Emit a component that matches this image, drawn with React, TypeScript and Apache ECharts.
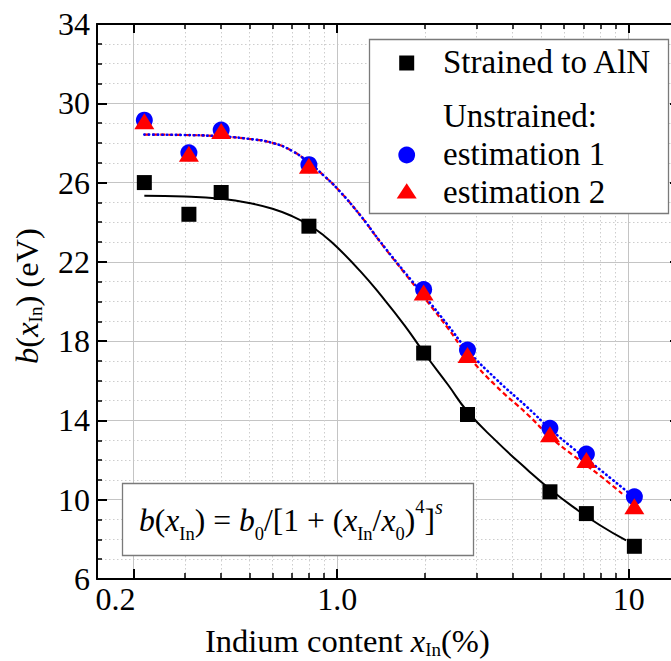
import React, { useEffect, useRef } from "react";
import * as echarts from "echarts";

const FONT = "'Liberation Serif', 'Times New Roman', serif";

// Measured points (x = indium content in %, y = b in eV)
const indiumContent = [0.218, 0.31, 0.4, 0.8, 1.98, 2.8, 5.37, 7.16, 10.46];
const strainedToAlN = [26.0, 24.4, 25.5, 23.8, 17.4, 14.3, 10.4, 9.3, 7.65];
const unstrainedEst1 = [29.15, 27.5, 28.65, 26.9, 20.6, 17.55, 13.6, 12.3, 10.15];
const unstrainedEst2 = [29.1, 27.45, 28.6, 26.85, 20.45, 17.3, 13.3, 12.0, 9.67];

// Fitted curves
const fitStrainedX = [0.218, 0.3, 0.4, 0.5, 0.6, 0.7, 0.8, 0.9, 1.0, 1.2, 1.4, 1.7, 2.0, 2.4, 2.8, 3.5, 4.5, 5.4, 6.5, 8.0, 9.8];
const fitStrainedY = [25.34, 25.3, 25.18, 24.97, 24.68, 24.31, 23.86, 23.33, 22.74, 21.53, 20.38, 18.81, 17.35, 15.8, 14.45, 12.98, 11.5, 10.5, 9.6, 8.7, 7.95];
const fitEst1X = [0.218, 0.3, 0.4, 0.5, 0.6, 0.7, 0.8, 0.9, 1.0, 1.2, 1.4, 1.7, 2.0, 2.4, 2.8, 3.5, 4.5, 5.4, 6.5, 8.0, 9.9];
const fitEst1Y = [28.42, 28.4, 28.33, 28.2, 28.0, 27.6, 27.0, 26.35, 25.7, 24.35, 23.05, 21.5, 20.25, 18.8, 17.55, 16.1, 14.65, 13.55, 12.55, 11.5, 10.4];
const fitEst2X = [0.218, 0.3, 0.4, 0.5, 0.6, 0.7, 0.8, 0.9, 1.0, 1.2, 1.4, 1.7, 2.0, 2.4, 2.8, 3.5, 4.5, 5.4, 6.5, 8.0, 9.5];
const fitEst2Y = [28.42, 28.4, 28.33, 28.2, 28.0, 27.6, 27.0, 26.35, 25.7, 24.35, 23.03, 21.45, 20.15, 18.65, 17.3, 15.75, 14.3, 13.15, 12.2, 11.2, 10.3];

// Axes
const X_MIN = 0.15;
const X_MAX = 15;
const Y_MIN = 6;
const Y_MAX = 34;
const xMajorTicks = [0.2, 1, 10];
const xTickLabels = ["0.2", "1.0", "10"];
const xMinorTicks = [0.3, 0.4, 0.5, 0.6, 0.7, 0.8, 0.9, 2, 3, 4, 5, 6, 7, 8, 9];
const yMajorTicks = [6, 10, 14, 18, 22, 26, 30, 34];

const legendLabels = ["Strained to AlN", "Unstrained:", "estimation 1", "estimation 2"];

export default function App() {
  const ref = useRef<HTMLDivElement>(null);

  useEffect(() => {
    if (!ref.current) return;
    const chart = echarts.init(ref.current, null, { renderer: "svg" });
    const lg = Math.log10;
    const xMin = lg(X_MIN);
    const xMax = lg(X_MAX);
    const majorLog = xMajorTicks.map(lg);
    const minorLog = xMinorTicks.map(lg);
    const labelFor = (v: number) => {
      let best = 0;
      for (let i = 0; i < majorLog.length; i++) {
        if (Math.abs(majorLog[i] - v) < Math.abs(majorLog[best] - v)) best = i;
      }
      return best === 0 ? "{l|" + xTickLabels[0] + "}" : xTickLabels[best];
    };
    const tickFont = { fontFamily: FONT, fontSize: 32, color: "#000" };
    const black2 = { color: "#000", width: 2 };
    const solidGrid = { color: "#c4c4c4", width: 1, type: "solid" };
    const dotGrid = { color: "#cdcdcd", width: 1, type: [1.5, 2.5] };

    const decoX = (extra: any) => ({ type: "value", min: xMin, max: xMax, gridIndex: 0, ...extra });
    const decoY = (extra: any) => ({ type: "value", min: Y_MIN, max: Y_MAX, gridIndex: 0, ...extra });

    const pairs = (xs: number[], ys: number[]) => xs.map((x, i) => [x, ys[i]]);

    const rich = (main: number, lh: number, sub: number, subLh: number) => ({
      n: { fontFamily: FONT, fontSize: main, lineHeight: lh, fill: "#000" },
      i: { fontFamily: FONT, fontSize: main, lineHeight: lh, fontStyle: "italic", fill: "#000" },
      sub: { fontFamily: FONT, fontSize: sub, lineHeight: subLh, verticalAlign: "bottom", fill: "#000" },
      sup: { fontFamily: FONT, fontSize: sub, lineHeight: 38, verticalAlign: "top", fill: "#000" },
      sups: { fontFamily: FONT, fontSize: 20, lineHeight: 2, fontStyle: "italic", verticalAlign: "top", fill: "#000" },
    });

    const textEl = (x: number, y: number, text: string, extra: any = {}) => ({
      type: "text",
      x,
      y,
      z: 110,
      style: {
        text,
        fontFamily: FONT,
        fontSize: 33,
        fill: "#000",
        align: "left",
        verticalAlign: "middle",
        textAlign: "left",
        textVerticalAlign: "middle",
        ...extra,
      },
    });

    const lineSeries = (name: string, xs: number[], ys: number[], lineStyle: any, z: number) => ({
      name,
      type: "line",
      xAxisIndex: 0,
      yAxisIndex: 0,
      data: pairs(xs, ys),
      showSymbol: false,
      smooth: 0.5,
      lineStyle,
      z,
    });

    const scatterSeries = (name: string, ys: number[], symbol: string, size: any, color: string, z: number) => ({
      name,
      type: "scatter",
      xAxisIndex: 0,
      yAxisIndex: 0,
      data: pairs(indiumContent, ys),
      symbol,
      symbolSize: size,
      itemStyle: { color, opacity: 1 },
      z,
    });

    const option: any = {
      animation: false,
      grid: { left: 97, top: 24, width: 583, height: 555, containLabel: false, outerBoundsMode: "none" },
      xAxis: [
        { type: "log", logBase: 10, min: X_MIN, max: X_MAX, show: false, gridIndex: 0 },
        decoX({
          position: "bottom",
          axisLine: { show: true, onZero: false, lineStyle: black2 },
          axisTick: { show: true, inside: true, length: 10, customValues: majorLog, lineStyle: black2 },
          axisLabel: {
            show: true,
            customValues: majorLog,
            formatter: (v: number) => labelFor(v),
            margin: 4,
            ...tickFont,
            rich: { l: { ...tickFont, padding: [0, 36, 0, 0] } },
          },
          splitLine: { show: true, lineStyle: solidGrid },
        }),
        decoX({
          position: "bottom",
          axisLine: { show: false },
          axisTick: { show: true, inside: true, length: 6, customValues: minorLog, lineStyle: { color: "#000", width: 1.5 } },
          axisLabel: { show: false },
          splitLine: { show: true, lineStyle: dotGrid },
        }),
        decoX({
          position: "top",
          axisLine: { show: true, onZero: false, lineStyle: black2 },
          axisTick: { show: true, inside: true, length: 9, customValues: majorLog, lineStyle: black2 },
          axisLabel: { show: false },
          splitLine: { show: false },
        }),
        decoX({
          position: "top",
          axisLine: { show: false },
          axisTick: { show: true, inside: true, length: 5, customValues: minorLog, lineStyle: { color: "#000", width: 1.5 } },
          axisLabel: { show: false },
          splitLine: { show: false },
        }),
      ],
      yAxis: [
        decoY({
          position: "left",
          interval: 1,
          axisLine: { show: true, onZero: false, lineStyle: black2 },
          axisTick: { show: true, inside: true, length: 5, lineStyle: { color: "#000", width: 1.5 } },
          axisLabel: { show: false },
          splitLine: { show: true, lineStyle: dotGrid },
        }),
        decoY({
          position: "left",
          axisLine: { show: false, onZero: false },
          axisTick: { show: true, inside: true, length: 10, customValues: yMajorTicks, lineStyle: black2 },
          axisLabel: { show: true, customValues: yMajorTicks, margin: 7, ...tickFont },
          splitLine: { show: true, lineStyle: solidGrid },
        }),
        decoY({
          position: "right",
          axisLine: { show: true, onZero: false, lineStyle: black2 },
          axisTick: { show: true, inside: true, length: 10, customValues: yMajorTicks, lineStyle: black2 },
          axisLabel: { show: false },
          splitLine: { show: false },
        }),
      ],
      series: [
        lineSeries("fit strained", fitStrainedX, fitStrainedY, { color: "#000", width: 2 }, 3),
        lineSeries("fit estimation 2", fitEst2X, fitEst2Y, { color: "#ff0000", width: 2.2, type: [5, 3] }, 3),
        lineSeries("fit estimation 1", fitEst1X, fitEst1Y, { color: "#0000ff", width: 2.6, type: [0.5, 4], cap: "round" }, 4),
        scatterSeries(legendLabels[0], strainedToAlN, "rect", 15, "#000000", 5),
        scatterSeries(legendLabels[2], unstrainedEst1, "circle", 17, "#0000ff", 6),
        scatterSeries(legendLabels[3], unstrainedEst2, "triangle", [20, 16], "#ff0000", 7),
      ],
      graphic: [
        // legend box
        { type: "rect", z: 100, shape: { x: 369.5, y: 39.5, width: 299, height: 174 }, style: { fill: "#fff", stroke: "#7a7a7a", lineWidth: 1.3 } },
        { type: "rect", z: 110, shape: { x: 399.2, y: 55.5, width: 15, height: 15 }, style: { fill: "#000" } },
        { type: "circle", z: 110, shape: { cx: 406.7, cy: 155, r: 8.4 }, style: { fill: "#0000ff" } },
        { type: "polygon", z: 110, shape: { points: [[406.7, 183.3], [416.7, 198.5], [396.7, 198.5]] }, style: { fill: "#ff0000" } },
        textEl(443, 62, legendLabels[0]),
        textEl(443, 116, legendLabels[1]),
        textEl(443, 154, legendLabels[2]),
        textEl(443, 192, legendLabels[3]),
        // formula box
        { type: "rect", z: 100, shape: { x: 122.5, y: 483.5, width: 351, height: 72 }, style: { fill: "#fff", stroke: "#7a7a7a", lineWidth: 1.3 } },
        textEl(
          139,
          520,
          "{i|b}{n|(}{i|x}{sub|In}{n|) = }{i|b}{sub|0}{n|/[1 + (}{i|x}{sub|In}{n|/}{i|x}{sub|0}{n|)}{sup|4}{n|]}{sups|s}",
          { rich: rich(31.6, 46, 18.5, 18) }
        ),
        // axis titles
        textEl(205, 641, "{n|Indium content }{i|x}{sub|In}{n|(%)}", { rich: rich(32.5, 35, 19, 13) }),
        {
          ...textEl(27, 296, "{i|b}{n|(}{i|x}{sub|In}{n|) (eV)}", {
            rich: rich(32.5, 35, 19, 13),
            align: "center",
            textAlign: "center",
          }),
          rotation: Math.PI / 2,
        },
      ],
    };

    chart.setOption(option);
    return () => chart.dispose();
  }, []);

  return (
    <div
      ref={ref}
      style={{ position: "fixed", left: 0, top: 0, width: 671, height: 661, background: "#fff" }}
    />
  );
}
